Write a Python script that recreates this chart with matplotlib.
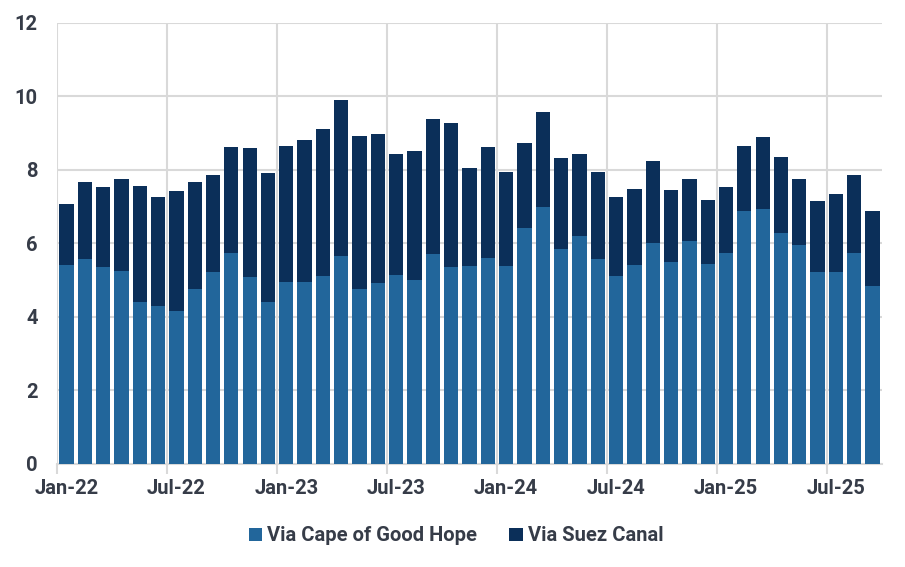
import numpy as np
import matplotlib
matplotlib.use('Agg')
import matplotlib.pyplot as plt

plt.rcParams['font.family'] = ['Roboto', 'DejaVu Sans']

# monthly data, Jan-22 .. Sep-25
months = ['Jan-22', 'Feb-22', 'Mar-22', 'Apr-22', 'May-22', 'Jun-22',
          'Jul-22', 'Aug-22', 'Sep-22', 'Oct-22', 'Nov-22', 'Dec-22',
          'Jan-23', 'Feb-23', 'Mar-23', 'Apr-23', 'May-23', 'Jun-23',
          'Jul-23', 'Aug-23', 'Sep-23', 'Oct-23', 'Nov-23', 'Dec-23',
          'Jan-24', 'Feb-24', 'Mar-24', 'Apr-24', 'May-24', 'Jun-24',
          'Jul-24', 'Aug-24', 'Sep-24', 'Oct-24', 'Nov-24', 'Dec-24',
          'Jan-25', 'Feb-25', 'Mar-25', 'Apr-25', 'May-25', 'Jun-25',
          'Jul-25', 'Aug-25', 'Sep-25']

cape = [5.40, 5.57, 5.35, 5.24, 4.40, 4.29, 4.16, 4.75, 5.21, 5.73, 5.08, 4.40,
        4.94, 4.94, 5.10, 5.65, 4.75, 4.91, 5.13, 5.00, 5.70, 5.35, 5.38, 5.59,
        5.38, 6.43, 7.00, 5.84, 6.19, 5.57, 5.10, 5.40, 6.00, 5.48, 6.05, 5.43,
        5.73, 6.87, 6.92, 6.27, 5.95, 5.21, 5.21, 5.73, 4.83]

total = [7.08, 7.68, 7.52, 7.76, 7.55, 7.25, 7.41, 7.66, 7.85, 8.63, 8.58, 7.90,
         8.66, 8.82, 9.12, 9.91, 8.93, 8.96, 8.42, 8.50, 9.37, 9.26, 8.06, 8.63,
         7.95, 8.74, 9.58, 8.33, 8.42, 7.95, 7.25, 7.47, 8.25, 7.44, 7.76, 7.17,
         7.52, 8.66, 8.90, 8.36, 7.76, 7.14, 7.33, 7.85, 6.87]

suez = [t - c for t, c in zip(total, cape)]

cape_color = '#22669B'
suez_color = '#0B2F59'
grid_color = '#D9D9D9'
text_color = '#363C48'

fig = plt.figure(figsize=(9.05, 5.67), dpi=100)
ax = fig.add_axes([0.0633, 0.1817, 0.911, 0.7783])

x = np.arange(len(months)) + 0.5
ax.bar(x, cape, width=0.78, color=cape_color, label='Via Cape of Good Hope', zorder=3)
ax.bar(x, suez, width=0.78, bottom=cape, color=suez_color, label='Via Suez Canal', zorder=3)

ax.set_xlim(0, len(months))
ax.set_ylim(0, 12)
ax.set_yticks(range(0, 13, 2))

# labels centred on bars, gridlines on month boundaries
lab_idx = list(range(0, len(months), 6))
ax.set_xticks([i + 0.5 for i in lab_idx])
ax.set_xticklabels([months[i] for i in lab_idx])
ax.set_xticks(lab_idx, minor=True)
ax.tick_params(axis='x', which='major', length=0, pad=11, labelsize=14.5, labelcolor=text_color)
ax.tick_params(axis='x', which='minor', length=7, width=1.5, color=grid_color)
ax.tick_params(axis='y', length=0, pad=14, labelsize=14.5, labelcolor=text_color)
for lab in ax.get_xticklabels() + ax.get_yticklabels():
    lab.set_fontweight('semibold')

ax.grid(axis='y', which='major', color=grid_color, linewidth=1.5, zorder=0)
ax.grid(axis='x', which='minor', color=grid_color, linewidth=1.5, zorder=0)
ax.grid(axis='x', which='major', visible=False)

for s in ['top', 'right', 'left']:
    ax.spines[s].set_visible(False)
ax.spines['bottom'].set_color(grid_color)
ax.spines['bottom'].set_linewidth(1.5)

leg = fig.legend(loc='center', bbox_to_anchor=(0.504, 0.055), ncol=2, frameon=False,
                 prop={'size': 14.5, 'weight': 'semibold'},
                 handlelength=0.65, handleheight=0.6, handletextpad=0.25, columnspacing=1.6)
for t in leg.get_texts():
    t.set_color(text_color)

fig.savefig('out.png', dpi=100)
